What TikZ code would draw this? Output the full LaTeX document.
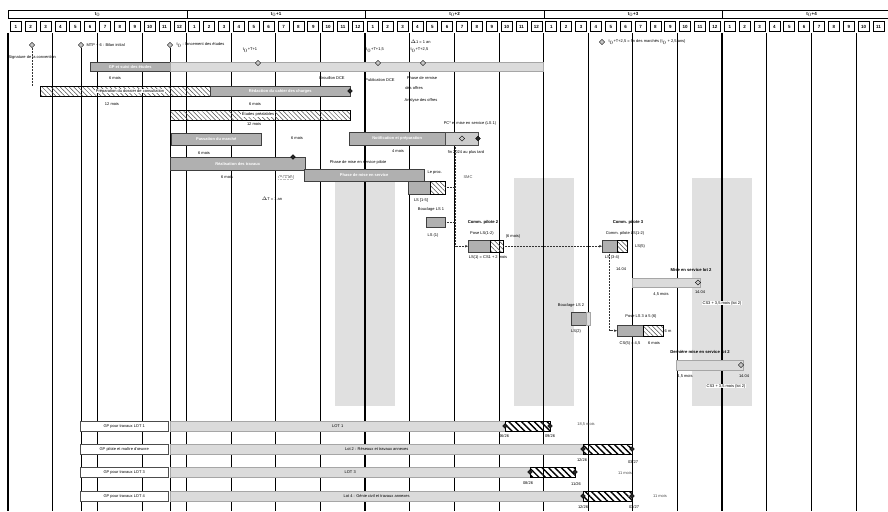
\documentclass[tikz,border=0pt]{standalone}
\usepackage{fontspec}
\setmainfont{Liberation Sans}
\usetikzlibrary{patterns,patterns.meta,shapes.geometric,arrows.meta}
\newcommand\tsk[7]{\node[#2,anchor=north west,minimum width={(#5)-(#3)},minimum height={(#6)-(#4)}] (#1) at (#3,#4) {#7};}
\tikzset{
 every node/.style={inner sep=0.4pt, font=\fontsize{4}{4.6}\selectfont},
 lbl/.style={inner sep=0.4pt},
 blbl/.style={inner sep=0.4pt, font=\fontsize{4.2}{4.8}\selectfont\bfseries},
 wlbl/.style={fill=white, inner sep=0.6pt},
 glbl/.style={inner sep=0.4pt, text=gray!60!black},
 lightbar/.style={draw=gray!70, fill=gray!28, inner sep=0pt, line width=0.4pt},
 midbar/.style={draw=gray!60!black, fill=gray!40, inner sep=0pt, line width=0.4pt},
 darkbar/.style={draw=gray!50!black, fill=gray!62, text=white, inner sep=0pt, line width=0.4pt, font=\fontsize{4}{4.6}\selectfont\bfseries},
 hatchbar/.style={draw=black, pattern={Lines[angle=-45,distance=3.2pt,line width=0.5pt]}, pattern color=gray!60!black, inner sep=0pt, line width=0.4pt},
 boldhatch/.style={draw=black, fill=white, pattern={Lines[angle=-45,distance=4.5pt,line width=1.4pt]}, inner sep=0pt, line width=0.6pt},
 lbox/.style={draw=gray!60!black, fill=white, inner sep=0pt, line width=0.4pt},
 ms/.style={diamond, draw=black, fill=gray!45, inner sep=0pt, minimum size=5.5pt, line width=0.4pt},
 dms/.style={diamond, draw=black, fill=gray!30!black, inner sep=0pt, minimum size=5pt, line width=0.3pt},
 ybox/.style={draw, line width=0.6pt, inner sep=0pt, minimum height=8.5pt, anchor=north west, font=\fontsize{4.5}{5}\selectfont\bfseries},
 mbox/.style={draw, line width=0.9pt, inner sep=0pt, minimum width=11pt, minimum height=10pt, anchor=north west, font=\fontsize{4.5}{5}\selectfont\bfseries},
 yearline/.style={line width=1.4pt},
 qline/.style={line width=0.6pt},
 msline/.style={line width=0.8pt},
 band/.style={fill=gray!24, draw=none},
 conn/.style={densely dotted, gray!40!black, line width=0.5pt, -{Stealth[length=3pt,width=2.5pt]}},
 dline/.style={densely dotted, gray!40!black, line width=0.5pt},
}
\begin{document}
\begin{tikzpicture}[x=1pt,y=-1pt]
\useasboundingbox (0,0) rectangle (888,511);
\fill[white] (0,0) rectangle (888,511);
% shaded bands
\foreach \c in {365,543.5,722} \fill[band] (\c-30,178) rectangle (\c+30,406);
% grid lines
\foreach \k in {0,...,19} {
  \pgfmathsetmacro\xx{8+44.625*\k}
  \pgfmathtruncatemacro\r{mod(\k,4)}
  \ifnum\r=0 \draw[yearline] (\xx,33) -- (\xx,511); \else \draw[qline] (\xx,33) -- (\xx,511); \fi
}
% header
\draw[line width=0.8pt] (8,10) -- (888,10);
\foreach \i/\t/\n in {0/{t$_0$}/12,1/{t$_0$+1}/12,2/{t$_0$+2}/12,3/{t$_0$+3}/12,4/{t$_0$+4}/11} {
  \node[ybox, minimum width=178.5pt] (yr\i) at ({8+178.5*\i},10) {\t};
  \foreach \m in {1,...,\n}
    \node[mbox] (mo\i-\m) at ({8+178.5*\i+14.875*(\m-1)+1.9},21.5) {\m};
}
% top milestones
\node[ms] (m1) at (32,45) {};
\node[lbl, anchor=west] (m1t) at (8,57) {Signature de la convention};
\node[ms] (m2) at (81,45) {};
\node[lbl, anchor=west] (m2t) at (86,45) {MTP + 6 : Bilan initial};
\node[ms] (m3) at (170,45) {};
\node[lbl, anchor=west] (m3t) at (176,45) {t$_0$ : lancement des études};
\node[ms] (m4) at (602,42) {};
\node[lbl, anchor=west] (m4t) at (608,42) {t$_0$+T+2,5 = fin des marchés (t$_0$ + 2,5 ans)};
\coordinate (m2b) at (81,511);
\coordinate (m3b) at (170,511);
\draw[msline] (m2.south) -- (m2b);
\draw[msline] (m3.south) -- (m3b);
% bar 1
\tsk{b1a}{darkbar}{90}{62}{170}{71}{GP et suivi des études}
\tsk{b1b}{lightbar}{170}{62}{543}{71}{}
\node[ms] (d1) at (258,63) {};
\node[ms] (d2) at (378,63) {};
\node[ms] (d3) at (423,63) {};
\node[lbl] (d1t) at (250,50) {t$_0$+T+1};
\node[lbl] (d2t) at (375,50) {t$_0$+T+1,5};
\node[lbl, anchor=west] (d3t) at (410,42) {$\Delta$1 = 1 an};
\node[lbl, anchor=west] (d3u) at (410,50) {t$_0$+T+2,5};
\node[lbl] (l1) at (115,78) {6 mois};
% bar 2
\tsk{b2a}{hatchbar}{40}{86}{210}{96}{}
\node[wlbl] (b2t) at (130,91) {Préparation du dossier de consultation};
\tsk{b2b}{darkbar}{210}{86}{350}{96}{Rédaction du cahier des charges}
\node[dms] (d4) at (350,91) {};
\draw[dline] (m1) -- (m1 |- b2a.north);
\node[lbl] (l2) at (112,104) {12 mois};
\node[lbl] (l3) at (255,104) {6 mois};
\node[lbl] (l4) at (332,78) {Brouillon DCE};
\node[lbl] (l5) at (380,80) {Publication DCE};
\node[lbl] (l6) at (422,78) {Phase de remise};
\node[lbl] (l7) at (414,88) {des offres};
\node[lbl] (l8) at (421,100) {Analyse des offres};
% bar 3
\tsk{b3}{hatchbar}{170}{110}{350}{120}{}
\node[wlbl] (b3t) at (258,114) {Études préalables};
\node[lbl] (l9) at (254,124) {12 mois};
% bar 4
\tsk{b4}{darkbar}{171}{133}{261}{145}{Passation du marché}
\node[lbl] (l10) at (297,138) {6 mois};
\node[lbl] (l11) at (204,153) {6 mois};
% bar 5
\tsk{b5a}{darkbar}{349}{132}{445}{145}{Notification et préparation}
\tsk{b5b}{midbar}{445}{132}{478}{145}{}
\node[ms] (d5) at (462,138.5) {};
\node[dms] (d6) at (478,138.5) {};
\node[lbl] (l12) at (470,123) {PC* et mise en service (LS 1)};
\node[lbl] (l13) at (398,151) {4 mois};
\node[lbl] (l14) at (466,152) {fin 2024 au plus tard};
% bar 6
\tsk{b6}{darkbar}{170}{157}{305}{170}{Réalisation des travaux}
\node[dms] (d7) at (293,157) {};
\node[lbl] (l15) at (227,177) {6 mois};
\node[glbl, draw=gray!50, densely dotted] (l16) at (286,177) {\,$\sim$1 an\,};
\node[lbl] (l17) at (272,199) {$\Delta$T = 1 an};
% bar 7
\node[lbl] (l18) at (358,162) {Phase de mise en service pilote};
\tsk{b7}{darkbar}{304}{169}{424}{181}{Phase de mise en service}
\node[lbl, anchor=west] (l19) at (427,173) {Le proc.};
\node[glbl] (l20) at (468,177) {SMC};
\tsk{b8a}{darkbar}{408}{181}{430}{194}{}
\tsk{b8b}{hatchbar}{430}{181}{445}{194}{}
\node[lbl] (l21) at (421,200) {LS [1-5]};
% small box LS1
\node[lbl] (l22) at (431,209) {Bouclage LS 1};
\tsk{b9}{darkbar}{426}{217}{445}{227}{}
\node[lbl] (l23) at (433,235) {LS (1)};
% connectors region
\coordinate (k1) at (455,145);
\draw[dline] (b8b.east) -- (b8b.east -| k1);
\draw[dline] (b9.east) -- (b9.east -| k1);
% box A
\node[blbl] (A0) at (483,222) {Comm. pilote 2};
\node[lbl] (A0b) at (482,233) {Pose LS(1-2)};
\node[lbl] (A0c) at (513,236) {(6 mois)};
\tsk{A1}{darkbar}{468}{240}{490}{252}{}
\tsk{A2}{hatchbar}{490}{240}{503}{252}{}
\node[lbl] (A0d) at (488,257) {LS(1) = CS1 + 2 mois};
\draw[conn] (k1) |- (A1.west);
% box B
\node[blbl] (B0) at (628,222) {Comm. pilote 3};
\node[lbl] (B0b) at (625,233) {Comm. pilote LS(1-2)};
\tsk{B1}{darkbar}{602}{240}{617}{252}{}
\tsk{B2}{hatchbar}{617}{240}{627}{252}{}
\node[lbl] (B0c) at (640,246) {LS(5)};
\node[lbl] (B0d) at (612,257) {LS (3-4)};
\draw[conn] (A2.east) -- (B1.west);
% bar D
\node[lbl] (D0a) at (621,269) {14.04};
\node[blbl] (D0) at (691,270) {Mise en service lot 2};
\draw[line width=0.8pt] (632,271) -- (632,290);
\tsk{D1}{lightbar}{632}{278}{700}{287}{}
\node[ms] (D2) at (698,282.5) {};
\node[lbl] (D0b) at (661,294) {4,5 mois};
\node[lbl] (D0c) at (700,292) {14.04};
\node[wlbl] (D0d) at (722,303) {CS3 + 3,5 mois (lot 2)};
% box E
\node[lbl] (E0) at (571,305) {Bouclage LS 2};
\tsk{E1}{darkbar}{571}{312}{586}{325}{}
\tsk{E2}{lightbar}{586}{312}{590}{325}{}
\node[lbl] (E0b) at (576,331) {LS(2)};
% box C
\node[lbl] (C0) at (641,316) {Pose LS 3 à 5 (6)};
\tsk{C1}{darkbar}{617}{325}{643}{336}{}
\tsk{C2}{hatchbar}{643}{325}{663}{336}{}
\node[lbl] (C0b) at (668,331) {6 m};
\node[lbl] (C0c) at (630,343) {CS(5) = 4,5};
\node[lbl] (C0d) at (654,343) {6 mois};
\draw[conn] (B1.south) |- (C1.west);
% bar F
\node[blbl] (F0) at (700,352) {Dernière mise en service lot 2};
\tsk{F1}{lightbar}{676}{360}{743}{370}{}
\node[ms] (F2) at (741,365) {};
\node[lbl] (F0b) at (685,376) {4,5 mois};
\node[lbl] (F0c) at (744,376) {14.04};
\node[wlbl] (F0d) at (726,386) {CS3 + 3,5 mois (lot 2)};
% bottom rows
\node[lbox, anchor=north west, minimum width=88pt, minimum height=10pt] (gA) at (80,421) {GP pour travaux LOT 1};
\tsk{rA}{lightbar}{170}{421}{505}{431}{LOT 1}
\tsk{hA}{boldhatch}{505}{421}{550}{431}{}
\node[dms] (sA) at (505,426) {};
\node[dms] (eA) at (550,426) {};
\node[lbl] (tA1) at (504,436) {06/26};
\node[lbl] (tA2) at (550,436) {09/26};
\node[glbl] (tA3) at (586,424) {18,5 mois};
\node[lbox, anchor=north west, minimum width=88pt, minimum height=10pt] (gB) at (80,444) {GP pilote et maître d'\oe uvre};
\tsk{rB}{lightbar}{170}{444}{583}{454}{Lot 2 : Réseaux et travaux annexes}
\tsk{hB}{boldhatch}{583}{444}{632}{454}{}
\node[dms] (sB) at (583,449) {};
\node[dms] (eB) at (632,449) {};
\node[lbl] (tB1) at (582,460) {12/26};
\node[lbl] (tB2) at (633,462) {03/27};
\node[lbox, anchor=north west, minimum width=88pt, minimum height=10pt] (gC) at (80,467) {GP pour travaux LOT 3};
\tsk{rC}{lightbar}{170}{467}{530}{477}{LOT 3}
\tsk{hC}{boldhatch}{530}{467}{575}{477}{}
\node[dms] (sC) at (530,472) {};
\node[dms] (eC) at (575,472) {};
\node[lbl] (tC1) at (528,483) {08/26};
\node[lbl] (tC2) at (576,484) {11/26};
\node[glbl] (tC3) at (625,473) {11 mois};
\node[lbox, anchor=north west, minimum width=88pt, minimum height=10pt] (gD) at (80,491) {GP pour travaux LOT 4};
\tsk{rD}{lightbar}{170}{491}{583}{501}{Lot 4 : Génie civil et travaux annexes}
\tsk{hD}{boldhatch}{583}{491}{632}{501}{}
\node[dms] (sD) at (583,496) {};
\node[dms] (eD) at (632,496) {};
\node[lbl] (tD1) at (583,507) {12/26};
\node[lbl] (tD2) at (634,507) {03/27};
\node[glbl] (tD3) at (660,496) {11 mois};
\end{tikzpicture}
\end{document}
